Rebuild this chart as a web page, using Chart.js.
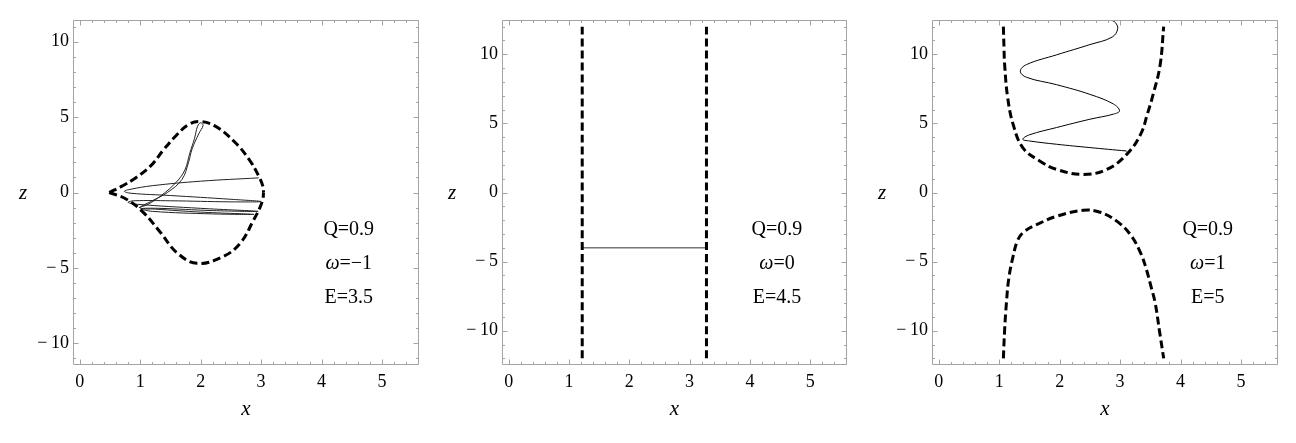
<!DOCTYPE html>
<html><head><meta charset="utf-8">
<script src="https://cdn.jsdelivr.net/npm/chart.js@4/dist/chart.umd.min.js"></script>
<style>
html,body{margin:0;padding:0;background:#fff;width:1296px;height:443px;overflow:hidden}
.p{position:absolute;top:0;width:432px;height:443px}
canvas{display:block}
.fp{position:absolute;left:-1000px;top:0;font-family:'Liberation Serif';font-size:20px}
</style></head><body>
<div class="fp">Q=0.9 <i>ω x z</i></div>
<div class="p" style="left:0"><canvas id="c1" width="432" height="443"></canvas></div>
<div class="p" style="left:432px"><canvas id="c2" width="432" height="443"></canvas></div>
<div class="p" style="left:864px"><canvas id="c3" width="432" height="443"></canvas></div>
<script>
// ---------- axis / tick data ----------
const xTicks = [0, 1, 2, 3, 4, 5];
const zTicks = [-10, -5, 0, 5, 10];
const xRange = [-0.11, 5.61];
const zRange1 = [-11.44, 11.44];
const zRange23 = [-12.48, 12.48];

// ---------- panel 1 : Q=0.9, ω=-1, E=3.5 ----------
const p1UpperX = [0.49, 0.70, 0.90, 1.17, 1.39, 1.60, 1.80, 1.97, 2.22, 2.55, 2.80, 2.96, 3.03, 3.04];
const p1UpperZ = [0.00, 0.42, 0.90, 1.75, 2.85, 3.80, 4.50, 4.70, 4.45, 3.40, 2.20, 1.10, 0.40, 0.00];
const p1LowerX = [0.49, 0.78, 1.06, 1.34, 1.61, 1.94, 2.38, 2.66, 2.88, 2.98, 3.03, 3.04];
const p1LowerZ = [0.00, -0.46, -1.35, -2.67, -4.00, -4.70, -4.23, -3.34, -1.79, -1.00, -0.40, 0.00];
const p1TrajX = [2.96, 2.0, 1.2, 0.85, 0.74, 0.85, 1.5, 2.5, 3.0, 2.5, 1.5, 0.9, 0.8, 0.95, 2.0, 2.95, 2.2, 1.3, 1.02, 1.2, 2.2, 2.88, 2.0, 1.25, 1.0,
                 1.2, 1.45, 1.69, 1.80, 1.86, 1.97, 2.04, 2.00, 1.95, 1.90, 1.82, 1.74, 1.60, 1.35, 1.12, 0.98];
const p1TrajZ = [0.97, 0.75, 0.45, 0.22, 0.08, -0.05, -0.2, -0.45, -0.6, -0.62, -0.55, -0.55, -0.65, -0.78, -1.05, -1.25, -1.2, -1.05, -1.08, -1.25, -1.42, -1.45, -1.3, -1.1, -1.02,
                 -0.55, 0.0, 0.86, 2.0, 2.9, 3.9, 4.45, 4.62, 4.4, 3.6, 2.6, 1.5, 0.7, -0.2, -0.8, -1.0];

// ---------- panel 2 : Q=0.9, ω=0, E=4.5 ----------
const p2LeftX = [1.22, 1.22];
const p2LeftZ = [-12, 12];
const p2RightX = [3.28, 3.28];
const p2RightZ = [-12, 12];
const p2TrajX = [1.22, 3.28];
const p2TrajZ = [-4, -4];

// ---------- panel 3 : Q=0.9, ω=1, E=5 ----------
const p3UpperX = [1.07, 1.08, 1.09, 1.14, 1.23, 1.39, 1.67, 1.95, 2.39, 2.78, 3.11, 3.34, 3.45, 3.54, 3.66, 3.72];
const p3UpperZ = [12, 10.5, 9.3, 6.9, 4.95, 3.25, 2.28, 1.67, 1.31, 1.67, 2.76, 4.22, 5.67, 7.0, 9.19, 12];
const p3LowerX = [1.07, 1.09, 1.12, 1.16, 1.23, 1.31, 1.42, 1.62, 1.95, 2.39, 2.67, 2.95, 3.17, 3.34, 3.43, 3.51, 3.58, 3.65, 3.72];
const p3LowerZ = [-12, -10, -8, -6.2, -4.63, -3.42, -2.81, -2.33, -1.72, -1.29, -1.43, -2.09, -3.05, -4.39, -5.5, -6.8, -8, -10, -12];
const p3TrajX = [3.11, 2.5, 1.95, 1.5, 1.39, 1.5, 1.95, 2.5, 2.89, 2.99, 2.89, 2.5, 1.95, 1.45, 1.35, 1.45, 1.95, 2.5, 2.87, 2.96, 2.92, 2.84];
const p3TrajZ = [3.0, 3.25, 3.49, 3.73, 3.85, 4.17, 4.7, 5.3, 5.67, 5.91, 6.4, 7.1, 7.8, 8.34, 8.78, 9.25, 9.96, 10.7, 11.25, 11.85, 12.3, 12.5];

// ---------- labels ----------
const p1Labels = [[["Q=0.9", false]], [["ω", true], ["=−1", false]], [["E=3.5", false]]];
const p2Labels = [[["Q=0.9", false]], [["ω", true], ["=0", false]], [["E=4.5", false]]];
const p3Labels = [[["Q=0.9", false]], [["ω", true], ["=1", false]], [["E=5", false]]];

const SERIF = "'Liberation Serif', Tinos, serif";
const FRAME = '#a4a4a4';

function pts(xs, zs) { return xs.map((x, i) => ({ x: x, y: zs[i] })); }
function dashed(xs, zs) {
  return { data: pts(xs, zs), showLine: true, pointRadius: 0, borderColor: '#000', borderWidth: 3,
           borderDash: [8, 4], tension: 0.4, fill: false };
}
function thin(xs, zs, color, w) {
  return { data: pts(xs, zs), showLine: true, pointRadius: 0, borderColor: color, borderWidth: w,
           tension: 0.4, fill: false };
}
function fmt(v) { return v < 0 ? '−\u2009' + Math.abs(v) : String(v); }

const framePlugin = {
  id: 'frameAnnot',
  afterDatasetsDraw(chart, args, opts) {
    const ctx = chart.ctx, a = chart.chartArea;
    const xs = chart.scales.x, ys = chart.scales.y;
    ctx.save();
    ctx.strokeStyle = FRAME;
    ctx.lineWidth = 1;
    const L = Math.round(a.left) + 0.5, R = Math.round(a.right) - 0.5;
    const T = Math.round(a.top) + 0.5, B = Math.round(a.bottom) - 0.5;
    ctx.beginPath();
    ctx.rect(L, T, R - L, B - T);
    for (let k = 0; k <= 28; k++) {
      const v = k * 0.2;
      const major = xTicks.some(t => Math.abs(t - v) < 1e-6);
      const len = major ? 5 : 2.5;
      const px = Math.round(xs.getPixelForValue(v)) + 0.5;
      ctx.moveTo(px, B); ctx.lineTo(px, B - len);
      ctx.moveTo(px, T); ctx.lineTo(px, T + len);
    }
    const zmax = Math.floor(ys.max);
    for (let v = -zmax; v <= zmax; v++) {
      const major = zTicks.indexOf(v) >= 0;
      const len = major ? 5 : 2.5;
      const py = Math.round(ys.getPixelForValue(v)) + 0.5;
      ctx.moveTo(L, py); ctx.lineTo(L + len, py);
      ctx.moveTo(R, py); ctx.lineTo(R - len, py);
    }
    ctx.stroke();
    ctx.restore();
  },
  afterDraw(chart, args, opts) {
    const ctx = chart.ctx, a = chart.chartArea;
    ctx.save();
    ctx.fillStyle = '#000';
    ctx.textBaseline = 'alphabetic';
    ctx.font = 'italic 21px ' + SERIF;
    ctx.textAlign = 'center';
    ctx.fillText('x', (a.left + a.right) / 2, a.bottom + 50);
    ctx.fillText('z', a.left - 50, (a.top + a.bottom) / 2 + 6);
    ctx.textAlign = 'left';
    const cx = a.left + 0.797 * (a.right - a.left);
    const offs = [215, 249, 283];
    (opts.lines || []).forEach((segs, i) => {
      let total = 0;
      segs.forEach(s => { ctx.font = (s[1] ? 'italic ' : '') + '20px ' + SERIF; total += ctx.measureText(s[0]).width; });
      let x = cx - total / 2;
      segs.forEach(s => {
        ctx.font = (s[1] ? 'italic ' : '') + '20px ' + SERIF;
        ctx.fillText(s[0], x, a.top + offs[i]);
        x += ctx.measureText(s[0]).width;
      });
    });
    ctx.restore();
  }
};

function makeChart(id, datasets, zRange, lines, left, right) {
  return new Chart(document.getElementById(id), {
    type: 'scatter',
    data: { datasets: datasets },
    options: {
      responsive: false, animation: false, events: [],
      layout: { padding: { left: 0, top: 20, right: 432 - right, bottom: 0 } },
      plugins: { legend: { display: false }, tooltip: { enabled: false }, frameAnnot: { lines: lines } },
      scales: {
        x: {
          type: 'linear', min: xRange[0], max: xRange[1],
          grid: { display: false, drawTicks: false }, border: { display: false },
          afterBuildTicks: s => { s.ticks = xTicks.map(v => ({ value: v })); },
          afterFit: s => { s.height = 78; },
          ticks: { font: { family: SERIF, size: 18 }, color: '#000', padding: 6, maxRotation: 0, autoSkip: false }
        },
        y: {
          type: 'linear', min: zRange[0], max: zRange[1],
          grid: { display: false, drawTicks: false }, border: { display: false },
          afterBuildTicks: s => { s.ticks = zTicks.map(v => ({ value: v })); },
          afterFit: s => { s.width = left; },
          ticks: { font: { family: SERIF, size: 18 }, color: '#000', padding: 4, autoSkip: false, callback: v => fmt(v) }
        }
      }
    },
    plugins: [framePlugin]
  });
}

const charts = [
  makeChart('c1', [
    dashed(p1UpperX, p1UpperZ),
    dashed(p1LowerX, p1LowerZ),
    thin(p1TrajX, p1TrajZ, '#222', 1)
  ], zRange1, p1Labels, 73, 419),
  makeChart('c2', [
    dashed(p2LeftX, p2LeftZ),
    dashed(p2RightX, p2RightZ),
    thin(p2TrajX, p2TrajZ, '#777', 1.4)
  ], zRange23, p2Labels, 70, 415),
  makeChart('c3', [
    dashed(p3UpperX, p3UpperZ),
    dashed(p3LowerX, p3LowerZ),
    thin(p3TrajX, p3TrajZ, '#000', 1)
  ], zRange23, p3Labels, 68, 414)
];
if (document.fonts && document.fonts.ready) {
  document.fonts.ready.then(() => charts.forEach(c => c.update('none')));
}
</script>
</body></html>
